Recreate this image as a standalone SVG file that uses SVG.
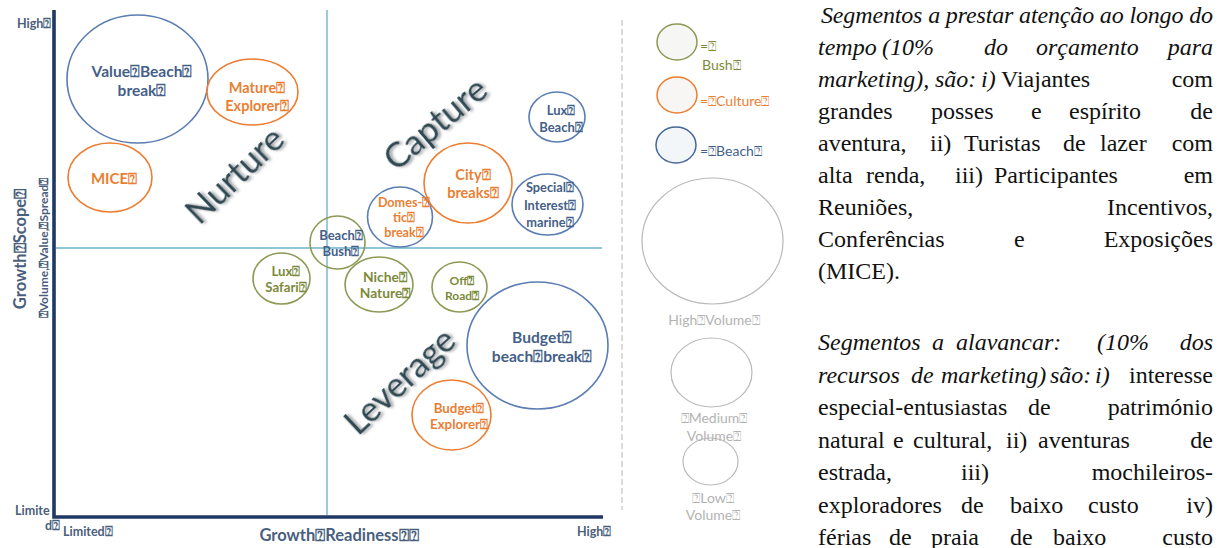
<svg xmlns="http://www.w3.org/2000/svg" width="1225" height="548" viewBox="0 0 1225 548">
  <defs>
    <filter id="soft-shadow" x="-20%" y="-40%" width="140%" height="180%">
      <feGaussianBlur in="SourceAlpha" stdDeviation="1.6" result="blur"/>
      <feOffset in="blur" dx="1.5" dy="1.8" result="off"/>
      <feFlood flood-color="#8a8f94" flood-opacity="0.85"/>
      <feComposite in2="off" operator="in" result="shadow"/>
      <feMerge>
        <feMergeNode in="shadow"/>
        <feMergeNode in="SourceGraphic"/>
      </feMerge>
    </filter>
  </defs>
  <style>
    .lbl { font-family: Lato, "Open Sans", "DejaVu Sans", sans-serif; font-weight: bold; text-anchor: middle; }
    .beach { fill: #fff; stroke: #5a7db3; stroke-width: 1.6; }
    .culture { fill: #fff; stroke: #ed7d31; stroke-width: 1.6; }
    .bush { fill: #fff; stroke: #8c9a55; stroke-width: 1.6; }
    .tb { fill: #445f88; }
    .tc { fill: #e97f34; }
    .tg { fill: #7d8a3b; }
    .axis { stroke: #1f3864; stroke-width: 3.6; fill: none; }
    .quad { stroke: #8fc6d9; stroke-width: 1.8; fill: none; }
    .axt { font-family: Lato, "Open Sans", "DejaVu Sans", sans-serif; font-weight: bold; fill: #4a5f7d; }
    .zone { font-family: Lato, "Open Sans", "DejaVu Sans", sans-serif; font-size: 35px; fill: #2e4a52; text-anchor: middle; filter: url(#soft-shadow); }
    .vol { fill: none; stroke: #b9b9b9; stroke-width: 1.2; }
    .volt { font-family: Lato, "Open Sans", "DejaVu Sans", sans-serif; font-size: 14px; fill: #b3b3b3; text-anchor: middle; }
    .leg { font-family: Lato, "Open Sans", "DejaVu Sans", sans-serif; font-size: 14px; }
    .para { font-family: "Liberation Serif", "Times New Roman", serif; font-size: 24px; fill: #111; }
    .it { font-style: italic; }
    .end { text-anchor: end; }
  </style>

  <!-- axes and quadrant dividers -->
  <g id="axes">
    <line class="quad" x1="327" y1="10" x2="327" y2="515"/>
    <line class="quad" x1="56" y1="248" x2="602" y2="248"/>
    <polyline class="axis" points="54,10 54,517 603,517"/>
    <line x1="622" y1="20" x2="622" y2="510" stroke="#c4c4c4" stroke-width="1.2" stroke-dasharray="6 3"/>
  </g>

  <!-- axis labels -->
  <g id="axis-labels">
    <text class="axt" x="17" y="28" font-size="12.5">High&#x2370;</text>
    <text class="axt" x="15" y="515" font-size="12.5">Limite</text>
    <text class="axt" x="45" y="530" font-size="12.5">d&#x2370;</text>
    <text class="axt" x="63" y="536" font-size="12.5">Limited&#x2370;</text>
    <text class="axt" x="577" y="536" font-size="12.5">High&#x2370;</text>
    <text class="axt" x="339" y="541" font-size="16.5" text-anchor="middle">Growth&#x2370;Readiness&#x2370;&#x2370;</text>
    <text class="axt" transform="translate(26,249) rotate(-90)" font-size="16.5" text-anchor="middle">Growth&#x2370;Scope&#x2370;</text>
    <text class="axt" transform="translate(48,248) rotate(-90)" font-size="12" font-weight="normal" text-anchor="middle">&#x2370;Volume,&#x2370;Value,&#x2370;Spread&#x2370;</text>
  </g>

  <!-- quadrant names -->
  <g id="zones">
    <text class="zone" transform="translate(243,184) rotate(-44)">Nurture</text>
    <text class="zone" transform="translate(443,133) rotate(-40)">Capture</text>
    <text class="zone" transform="translate(408,390) rotate(-43)">Leverage</text>
  </g>

  <!-- segments -->
  <g id="value-beach-break">
    <ellipse class="beach" cx="137.5" cy="79" rx="70.5" ry="64"/>
    <text class="lbl tb" x="142" y="77" font-size="15.5">Value&#x2370;Beach&#x2370;</text>
    <text class="lbl tb" x="142" y="96" font-size="15.5">break&#x2370;</text>
  </g>
  <g id="mature-explorer">
    <ellipse class="culture" cx="252.5" cy="92" rx="45.5" ry="33"/>
    <text class="lbl tc" x="257" y="93" font-size="14.5">Mature&#x2370;</text>
    <text class="lbl tc" x="257" y="111" font-size="14.5">Explorer&#x2370;</text>
  </g>
  <g id="mice">
    <ellipse class="culture" cx="110" cy="177.5" rx="42" ry="34.5"/>
    <text class="lbl tc" x="114" y="184" font-size="15">MICE&#x2370;</text>
  </g>
  <g id="lux-beach">
    <ellipse class="beach" cx="557" cy="117" rx="28" ry="25"/>
    <text class="lbl tb" x="561" y="115" font-size="13">Lux&#x2370;</text>
    <text class="lbl tb" x="561" y="132" font-size="13">Beach&#x2370;</text>
  </g>
  <g id="city-breaks">
    <ellipse class="culture" cx="468" cy="183" rx="44" ry="40"/>
    <text class="lbl tc" x="473" y="180" font-size="14.5">City&#x2370;</text>
    <text class="lbl tc" x="473" y="198" font-size="14.5">breaks&#x2370;</text>
  </g>
  <g id="special-interest-marine">
    <ellipse class="beach" cx="547.5" cy="204.5" rx="35.5" ry="30.5"/>
    <text class="lbl tb" x="550" y="192" font-size="12.8">Special&#x2370;</text>
    <text class="lbl tb" x="550" y="210" font-size="12.8">Interest&#x2370;</text>
    <text class="lbl tb" x="550" y="227" font-size="12.8">marine&#x2370;</text>
  </g>
  <g id="domestic-break">
    <ellipse class="beach" cx="400" cy="217" rx="32.5" ry="30"/>
    <text class="lbl tc" x="404" y="207" font-size="12.6">Domes-&#x2370;</text>
    <text class="lbl tc" x="404" y="222" font-size="12.6">tic&#x2370;</text>
    <text class="lbl tc" x="404" y="237" font-size="12.6">break&#x2370;</text>
  </g>
  <g id="beach-bush">
    <ellipse class="bush" cx="337.5" cy="242.5" rx="27.5" ry="26.5" fill-opacity="0"/>
    <text class="lbl tb" x="341" y="240" font-size="13">Beach&#x2370;</text>
    <text class="lbl tb" x="341" y="256" font-size="13">Bush&#x2370;</text>
  </g>
  <g id="lux-safari">
    <ellipse class="bush" cx="281.5" cy="278.5" rx="28.5" ry="25.5"/>
    <text class="lbl tg" x="286" y="276" font-size="13.2">Lux&#x2370;</text>
    <text class="lbl tg" x="286" y="292" font-size="13.2">Safari&#x2370;</text>
  </g>
  <g id="niche-nature">
    <ellipse class="bush" cx="379" cy="284.5" rx="34" ry="27.5"/>
    <text class="lbl tg" x="385" y="282" font-size="13.8">Niche&#x2370;</text>
    <text class="lbl tg" x="385" y="298" font-size="13.8">Nature&#x2370;</text>
  </g>
  <g id="off-road">
    <ellipse class="bush" cx="459.5" cy="287" rx="27.5" ry="25"/>
    <text class="lbl tg" x="462" y="285" font-size="12">Off&#x2370;</text>
    <text class="lbl tg" x="462" y="300" font-size="12">Road&#x2370;</text>
  </g>
  <g id="budget-beach-break">
    <ellipse class="beach" cx="537.5" cy="345.5" rx="70.5" ry="63.5"/>
    <text class="lbl tb" x="542" y="343" font-size="15.6">Budget&#x2370;</text>
    <text class="lbl tb" x="542" y="362" font-size="15.6">beach&#x2370;break&#x2370;</text>
  </g>
  <g id="budget-explorer">
    <ellipse class="culture" cx="451.5" cy="415" rx="39.5" ry="35"/>
    <text class="lbl tc" x="459" y="413" font-size="13.3">Budget&#x2370;</text>
    <text class="lbl tc" x="459" y="429" font-size="13.3">Explorer&#x2370;</text>
  </g>

  <!-- colour key -->
  <g id="key-bush">
    <ellipse cx="677" cy="42" rx="20" ry="18" fill="#f6f7f4" stroke="#8c9a55" stroke-width="1.5"/>
    <text class="leg tg" x="700" y="51">=&#x2370;</text>
    <text class="leg tg" x="702" y="70">Bush&#x2370;</text>
  </g>
  <g id="key-culture">
    <ellipse cx="677" cy="95" rx="20" ry="18" fill="#f8f6f4" stroke="#ed7d31" stroke-width="1.5"/>
    <text class="leg tc" x="700" y="106">=&#x2370;Culture&#x2370;</text>
  </g>
  <g id="key-beach">
    <ellipse cx="676" cy="145" rx="20" ry="18" fill="#f3f6f9" stroke="#44679b" stroke-width="1.5"/>
    <text class="leg tb" x="700" y="156">=&#x2370;Beach&#x2370;</text>
  </g>

  <!-- size key -->
  <g id="key-high-volume">
    <ellipse class="vol" cx="712.5" cy="241" rx="70.5" ry="63"/>
    <text class="volt" x="714" y="325">High&#x2370;Volume&#x2370;</text>
  </g>
  <g id="key-medium-volume">
    <ellipse class="vol" cx="711.5" cy="372.5" rx="40.5" ry="34.5"/>
    <text class="volt" x="714" y="423">&#x2370;Medium&#x2370;</text>
    <text class="volt" x="714" y="441">Volume&#x2370;</text>
  </g>
  <g id="key-low-volume">
    <ellipse class="vol" cx="710.5" cy="461.5" rx="27.5" ry="23.5"/>
    <text class="volt" x="713" y="503">&#x2370;Low&#x2370;</text>
    <text class="volt" x="713" y="520">Volume&#x2370;</text>
  </g>

  <!-- explanatory text, justified between x=818 and x=1213 -->
  <g id="notes" class="para">
    <text x="821" y="23" class="it" textLength="392" lengthAdjust="spacing">Segmentos a prestar atenção ao longo do</text>

    <text y="55" class="it"><tspan x="818">tempo</tspan><tspan x="882">(10%</tspan><tspan x="984">do</tspan><tspan x="1036">orçamento</tspan></text>
    <text x="1213" y="55" class="it end">para</text>

    <text y="87" class="it"><tspan x="818">marketing),</tspan><tspan x="935">são:</tspan><tspan x="981">i)</tspan></text>
    <text x="1001" y="87">Viajantes</text>
    <text x="1213" y="87" class="end">com</text>

    <text y="119"><tspan x="818">grandes</tspan><tspan x="931">posses</tspan><tspan x="1031">e</tspan><tspan x="1069">espírito</tspan></text>
    <text x="1213" y="119" class="end">de</text>

    <text y="151"><tspan x="818">aventura,</tspan><tspan x="930">ii)</tspan><tspan x="964">Turistas</tspan><tspan x="1063">de</tspan><tspan x="1100">lazer</tspan></text>
    <text x="1213" y="151" class="end">com</text>

    <text y="183"><tspan x="818">alta</tspan><tspan x="866">renda,</tspan><tspan x="955">iii)</tspan><tspan x="994">Participantes</tspan></text>
    <text x="1213" y="183" class="end">em</text>

    <text x="818" y="215">Reuniões,</text>
    <text x="1213" y="215" class="end">Incentivos,</text>

    <text y="247"><tspan x="818">Conferências</tspan><tspan x="1014">e</tspan></text>
    <text x="1213" y="247" class="end">Exposições</text>

    <text x="818" y="279">(MICE).</text>

    <text y="350" class="it"><tspan x="818">Segmentos</tspan><tspan x="932">a</tspan><tspan x="956">alavancar:</tspan><tspan x="1097">(10%</tspan></text>
    <text x="1213" y="350" class="it end">dos</text>

    <text y="382.5" class="it"><tspan x="818">recursos</tspan><tspan x="911">de</tspan><tspan x="941">marketing)</tspan><tspan x="1050">são:</tspan><tspan x="1095">i)</tspan></text>
    <text x="1213" y="382.5" class="end">interesse</text>

    <text y="415"><tspan x="818">especial-entusiastas</tspan><tspan x="1028">de</tspan></text>
    <text x="1213" y="415" class="end">património</text>

    <text y="447.5"><tspan x="818">natural</tspan><tspan x="893">e</tspan><tspan x="913">cultural,</tspan><tspan x="1006">ii)</tspan><tspan x="1038">aventuras</tspan></text>
    <text x="1213" y="447.5" class="end">de</text>

    <text y="480"><tspan x="818">estrada,</tspan><tspan x="961">iii)</tspan></text>
    <text x="1213" y="480" class="end">mochileiros-</text>

    <text y="512.5"><tspan x="818">exploradores</tspan><tspan x="961">de</tspan><tspan x="1010">baixo</tspan><tspan x="1088">custo</tspan></text>
    <text x="1213" y="512.5" class="end">iv)</text>

    <text y="545"><tspan x="818">férias</tspan><tspan x="889">de</tspan><tspan x="931">praia</tspan><tspan x="1010">de</tspan><tspan x="1053">baixo</tspan></text>
    <text x="1213" y="545" class="end">custo</text>
  </g>
</svg>
